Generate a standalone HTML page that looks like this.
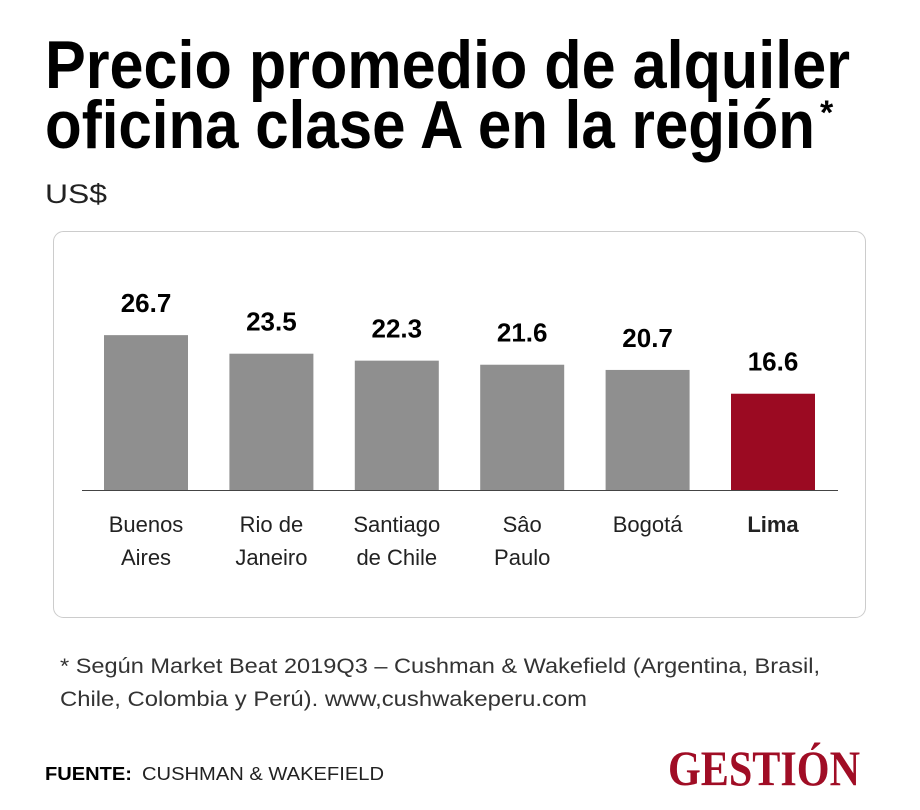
<!DOCTYPE html>
<html><head><meta charset="utf-8"><style>
body{margin:0;background:#fff;}
svg{display:block;font-family:"Liberation Sans",sans-serif;}
</style></head><body>
<svg width="920" height="810" viewBox="0 0 920 810">
<text x="45" y="88" font-size="68" font-weight="bold" textLength="805" lengthAdjust="spacingAndGlyphs">Precio promedio de alquiler</text>
<text x="45" y="148" font-size="68" font-weight="bold" textLength="770" lengthAdjust="spacingAndGlyphs">oficina clase A en la región</text>
<text x="820" y="124" font-size="34" font-weight="bold">*</text>
<text x="45" y="203" font-size="27" fill="#222" textLength="62" lengthAdjust="spacingAndGlyphs">US$</text>
<rect x="53.5" y="231.5" width="812" height="386" rx="10" fill="#fff" stroke="#ccc"/>
<g id="bars"></g>
<line x1="82" y1="490.5" x2="838" y2="490.5" stroke="#444" stroke-width="1"/>
<text x="60" y="673" font-size="21" fill="#333" textLength="760" lengthAdjust="spacingAndGlyphs">* Según Market Beat 2019Q3 – Cushman &amp; Wakefield (Argentina, Brasil,</text>
<text x="60" y="706" font-size="21" fill="#333" textLength="527" lengthAdjust="spacingAndGlyphs">Chile, Colombia y Perú). www,cushwakeperu.com</text>
<text x="45" y="780" font-size="18" font-weight="bold" textLength="87" lengthAdjust="spacingAndGlyphs">FUENTE:</text>
<text x="142" y="780" font-size="18" fill="#222" textLength="242" lengthAdjust="spacingAndGlyphs">CUSHMAN &amp; WAKEFIELD</text>
<text x="668" y="785" font-size="50" font-weight="bold" fill="#a00d25" font-family="Liberation Serif,serif" textLength="192" lengthAdjust="spacingAndGlyphs">GESTIÓN</text>
</svg>
<script>
const categories=[["Buenos","Aires"],["Rio de","Janeiro"],["Santiago","de Chile"],["Sâo","Paulo"],["Bogotá"],["Lima"]];
const values=[26.7,23.5,22.3,21.6,20.7,16.6];
const labels=["26.7","23.5","22.3","21.6","20.7","16.6"];
const highlight=[false,false,false,false,false,true];
const NS="http://www.w3.org/2000/svg";
const g=document.getElementById("bars");
const base=490, scale=5.8;
function y(v){return base-v*scale;}
function x(i){return 104+i*125.4;}
const bw=84;
values.forEach((v,i)=>{
  const r=document.createElementNS(NS,"rect");
  r.setAttribute("x",x(i));r.setAttribute("y",y(v));r.setAttribute("width",bw);r.setAttribute("height",base-y(v));
  r.setAttribute("fill",highlight[i]?"#9b0a22":"#8f8f8f");
  
  
  g.appendChild(r);
  const t=document.createElementNS(NS,"text");
  t.setAttribute("x",x(i)+bw/2);t.setAttribute("y",y(v)-23);t.setAttribute("text-anchor","middle");
  t.setAttribute("font-size","26");t.setAttribute("font-weight","bold");
  t.textContent=labels[i];
  
  
  g.appendChild(t);
  categories[i].forEach((line,j)=>{
    const c=document.createElementNS(NS,"text");
    c.setAttribute("x",x(i)+bw/2);c.setAttribute("y",532+j*33);c.setAttribute("text-anchor","middle");
    c.setAttribute("font-size","22");c.setAttribute("fill","#222");
    if(highlight[i])c.setAttribute("font-weight","bold");
    c.textContent=line;
    
    
    g.appendChild(c);
  });
});
</script>
</body></html>
